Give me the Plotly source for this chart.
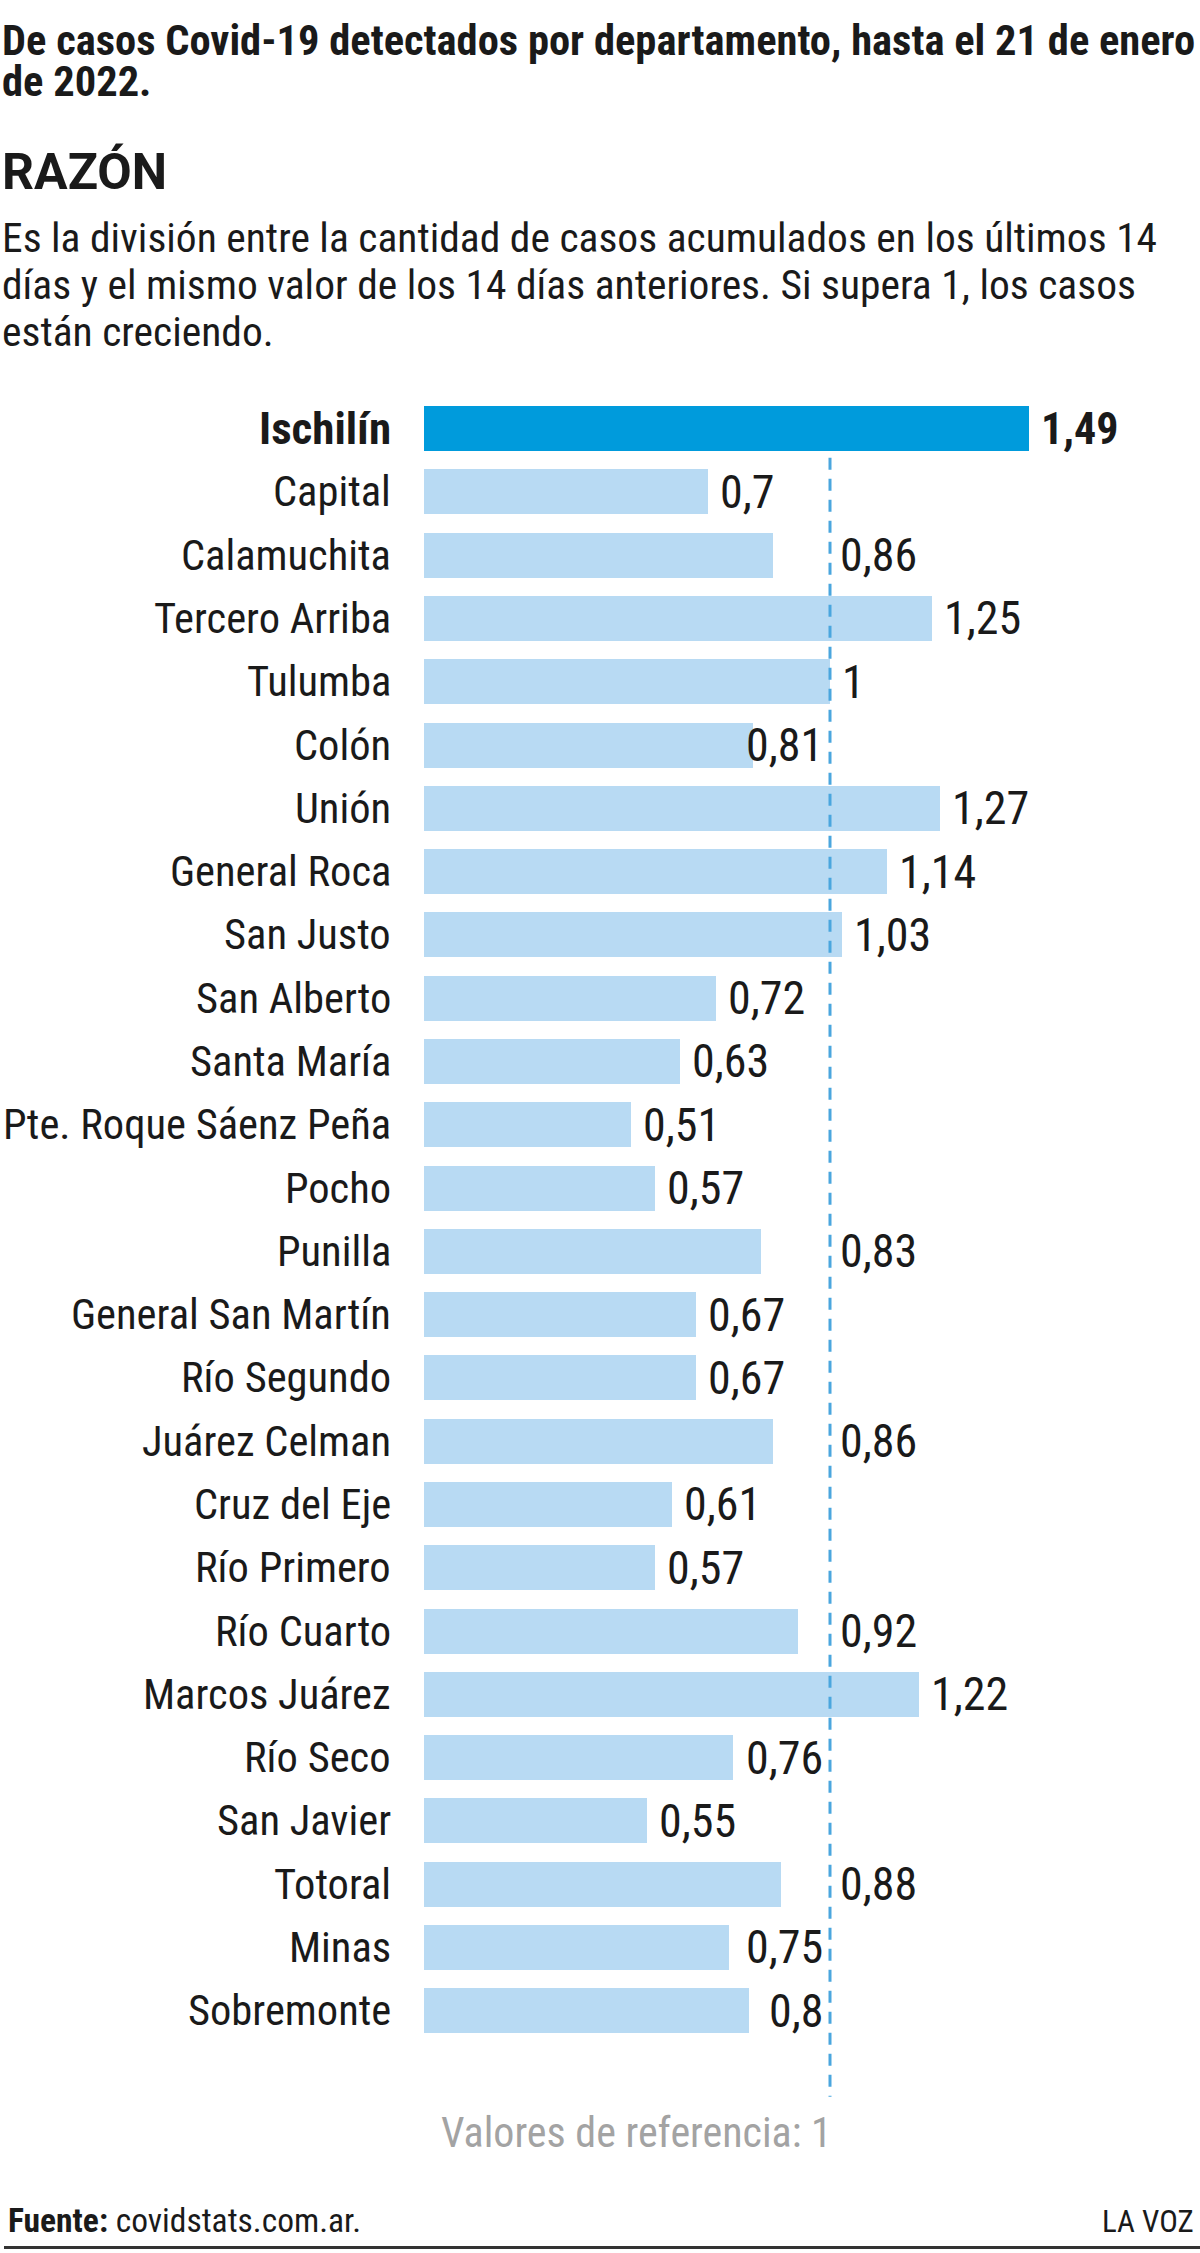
import plotly.graph_objects as go

categories = ["Ischilín", "Capital", "Calamuchita", "Tercero Arriba", "Tulumba", "Colón",
              "Unión", "General Roca", "San Justo", "San Alberto", "Santa María",
              "Pte. Roque Sáenz Peña", "Pocho", "Punilla", "General San Martín",
              "Río Segundo", "Juárez Celman", "Cruz del Eje", "Río Primero", "Río Cuarto",
              "Marcos Juárez", "Río Seco", "San Javier", "Totoral", "Minas", "Sobremonte"]
values = [1.49, 0.7, 0.86, 1.25, 1, 0.81, 1.27, 1.14, 1.03, 0.72, 0.63, 0.51, 0.57, 0.83,
          0.67, 0.67, 0.86, 0.61, 0.57, 0.92, 1.22, 0.76, 0.55, 0.88, 0.75, 0.8]
highlight = "Ischilín"
ref_value = 1

W, H = 1200, 2253
FONT = "Roboto Condensed, Liberation Sans Narrow, DejaVu Sans Condensed, sans-serif"
FONT_WIDE = "Roboto, Liberation Sans, sans-serif"
DARK = "#1a1a1a"
HL_COLOR = "#009bdc"
BAR_COLOR = "#b8daf3"
LINE_COLOR = "#4aa6de"

n = len(categories)
ypos = list(range(n))

# layout geometry
M_L = 424
M_T = 378
Y_RANGE = (-0.8, 26.6)
ROW_PX = 63.3
PLOT_H = (Y_RANGE[1] - Y_RANGE[0]) * ROW_PX
M_B = H - M_T - PLOT_H
X_MAX = (W - M_L) / 406.0


def py(ypix):
    return (M_T + PLOT_H - ypix) / PLOT_H


def px(xpix):
    return (xpix - M_L) / (W - M_L)


def fmt(v):
    return ("%g" % v).replace(".", ",")


colors = [HL_COLOR if c == highlight else BAR_COLOR for c in categories]

fig = go.Figure()
fig.add_trace(go.Bar(
    x=values, y=ypos, orientation="h", width=0.71,
    marker=dict(color=colors, line=dict(width=0)),
    hoverinfo="skip", showlegend=False,
))

annotations = []
for c, yv in zip(categories, ypos):
    bold = c == highlight
    annotations.append(dict(
        x=0, y=yv, xref="x", yref="y", xanchor="right", yanchor="middle",
        xshift=-31, showarrow=False,
        text=f"<b>{c}</b>" if bold else c,
        font=dict(family=FONT, size=45 if bold else 42.5, color=DARK),
    ))

for c, v, yv in zip(categories, values, ypos):
    bold = c == highlight
    if v >= ref_value or v < 0.74:
        ax, anchor, shift = v, "left", 10
    elif v <= 0.81:
        ax, anchor, shift = ref_value, "right", -5
    else:
        ax, anchor, shift = ref_value, "left", 8
    annotations.append(dict(
        x=ax, y=yv, xref="x", yref="y", xanchor=anchor, yanchor="middle",
        xshift=shift, showarrow=False,
        text=f"<b>{fmt(v)}</b>" if bold else fmt(v),
        font=dict(family=FONT, size=44 if bold else 46, color=DARK),
    ))


def txt(text, xpix, ybase, size, bold=False, color=DARK, anchor="left", family=FONT):
    return dict(
        x=px(xpix), y=py(ybase - 0.35 * size), xref="paper", yref="paper",
        xanchor=anchor, yanchor="middle", showarrow=False,
        text=f"<b>{text}</b>" if bold else text,
        font=dict(family=family, size=size, color=color),
    )

annotations += [
    txt("De casos Covid-19 detectados por departamento, hasta el 21 de enero", 0, 55, 42.5, bold=True),
    txt("de 2022.", 0, 96, 42.5, bold=True),
    txt("RAZÓN", 0, 189, 50, bold=True, family=FONT_WIDE),
    txt("Es la división entre la cantidad de casos acumulados en los últimos 14", 0, 252, 41.5),
    txt("días y el mismo valor de los 14 días anteriores. Si supera 1, los casos", 0, 299, 41.5),
    txt("están creciendo.", 0, 346, 41.5),
    txt("Valores de referencia: 1", 834, 2148, 42, color="#a3a3a3", anchor="right"),
    txt("<b>Fuente:</b> covidstats.com.ar.", 6, 2233, 33.5),
    txt("LA VOZ", 1196, 2233, 31, anchor="right"),
]

shapes = [
    dict(type="line", xref="x", yref="y", x0=ref_value, x1=ref_value,
         y0=0.46, y1=n + 0.36,
         line=dict(color=LINE_COLOR, width=3, dash="12px,9px")),
    dict(type="line", xref="paper", yref="paper", x0=px(4), x1=px(1200),
         y0=py(2248), y1=py(2248), line=dict(color="#333333", width=3)),
]

fig.update_layout(
    width=W, height=H,
    margin=dict(l=M_L, r=0, t=M_T, b=M_B, pad=0),
    paper_bgcolor="white", plot_bgcolor="white",
    xaxis=dict(range=[0, X_MAX], visible=False, fixedrange=True),
    yaxis=dict(range=[Y_RANGE[1], Y_RANGE[0]], visible=False, fixedrange=True),
    annotations=annotations, shapes=shapes,
    bargap=0,
)

fig.write_html("out.html", include_plotlyjs=True, config={"displayModeBar": False})
